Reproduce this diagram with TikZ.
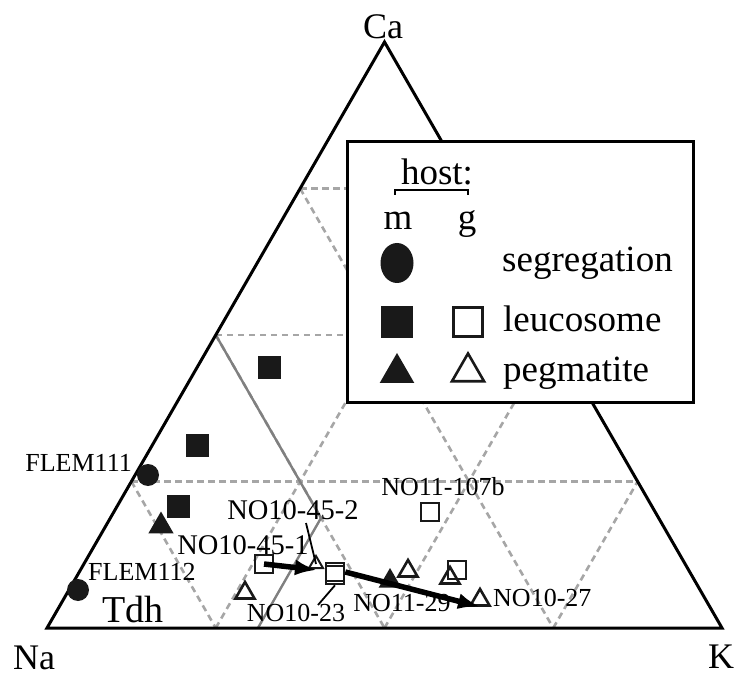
\documentclass[tikz,border=0pt]{standalone}
\usepackage{fontspec}
\setmainfont{Liberation Serif}
\usetikzlibrary{calc,shapes.geometric,arrows.meta}

\begin{document}
\begin{tikzpicture}[x=1pt,y=1pt,
        gridline/.style={gray!70, line width=2.6pt, dash pattern=on 6.5pt off 4.5pt},
        field/.style={gray, line width=2.4pt},
        msym/.style={fill=black!90, inner sep=0pt},
        gsym/.style={draw=black!90, line width=2.6pt, inner sep=0pt},
        sq/.style={rectangle, minimum size=#1},
        tri/.style={regular polygon, regular polygon sides=3, minimum size=#1},
        dot/.style={circle, minimum size=#1},
        lbl/.style={font=\fontsize{26}{26}\selectfont, inner sep=0pt},
        leg/.style={font=\fontsize{37}{37}\selectfont, inner sep=0pt},
        flow/.style={line width=5.5pt, -{Latex[length=22pt,width=16pt]}},
        leader/.style={line width=1.8pt}]
    \useasboundingbox (0,0) rectangle (736,678);

    % Corners
    \coordinate (Na) at (47,50);
    \coordinate (K) at (722,50);
    \coordinate (Ca) at (384.5,636);

    % Grid lines
    \foreach \f in {0.25,0.5,0.75} {
        \draw[gridline] ($(Na)!\f!(Ca)$) -- ($(K)!\f!(Ca)$);
        \draw[gridline] ($(Ca)!\f!(Na)$) -- ($(K)!\f!(Na)$);
        \draw[gridline] ($(Na)!\f!(K)$) -- ($(Ca)!\f!(K)$);
    }

    % Tdh field
    \coordinate (P) at (321,160);
    \draw[field] ($(Ca)!0.5!(Na)$) -- (P) -- ($(Na)!0.3125!(K)$);
    \node[font=\fontsize{38}{38}\selectfont, inner sep=0pt] (tdh) at (133,68) {Tdh};

    % Triangle
    \draw[line width=3pt, line join=miter] (Na) -- (K) -- (Ca) -- cycle;
    \node[font=\fontsize{36}{36}\selectfont, inner sep=0pt] (lca) at (383,651) {Ca};
    \node[font=\fontsize{36}{36}\selectfont, inner sep=0pt] (lna) at (34,20) {Na};
    \node[font=\fontsize{36}{36}\selectfont, inner sep=0pt] (lk) at (721,21) {K};

    % Legend
    \draw[fill=white, line width=3pt] (347,275) rectangle (693,536);
    \node[leg] (host) at (437,506) {host:};
    \draw[line width=2.2pt] (395,483) -- (395,488) -- (468,488) -- (468,483);
    \node[leg, anchor=base] (hm) at (398,448) {m};
    \node[leg, anchor=base] (hg) at (467,448) {g};
    \node[msym, ellipse, minimum width=33pt, minimum height=40pt] (kseg) at (397,415) {};
    \node[msym, sq=32pt] (kmsq) at (397,356) {};
    \node[gsym, sq=29pt] (kgsq) at (468,356) {};
    \node[msym, tri=40pt] (kmtri) at (397,305) {};
    \node[gsym, tri=37pt] (kgtri) at (468,306) {};
    \node[leg, anchor=base west] at (502,406) {segregation};
    \node[leg, anchor=base west] at (503,346) {leucosome};
    \node[leg, anchor=base west] at (503,296) {pegmatite};

    % m samples
    \node[msym, dot=22pt] (f111) at (148,203) {};
    \node[msym, dot=22pt] (f112) at (78,88) {};
    \foreach \x/\y in {269/310, 197/233, 178/172}
        \node[msym, sq=23pt] at (\x,\y) {};
    \node[msym, tri=29pt] (mt1) at (161,152) {};
    \node[msym, tri=26pt] (n1129) at (390,97) {};

    % g samples
    \node[gsym, sq=18pt] (s451) at (264,114) {};
    \node[gsym, sq=18pt] (s23b) at (335,103) {};
    \node[gsym, sq=18pt] (s23) at (335,106) {};
    \node[gsym, sq=18pt] (s107) at (430,166) {};
    \node[gsym, sq=18pt] (s5) at (457,108) {};
    \node[gsym, tri=22pt] (gt1) at (245,85) {};
    \node[gsym, tri=16pt, line width=2pt] (t452) at (316,114) {};
    \node[gsym, tri=22pt] (gt2) at (408,107) {};
    \node[gsym, tri=22pt] (gt3) at (450,100) {};
    \node[gsym, tri=22pt] (t27) at (480,78) {};

    % Trends
    \coordinate (a452) at (317,108);
    \draw[flow] (s451.center) -- (a452);
    \draw[flow] (s23.east) -- (t27.south);

    % Labels
    \node[lbl, anchor=east] (lf111) at (132,215) {FLEM111};
    \node[lbl, anchor=west] (lf112) at (88,106) {FLEM112};
    \node[lbl] (l107) at (443,191) {NO11-107b};
    \node[lbl, font=\fontsize{28.5}{28.5}\selectfont] (l452) at (293,168) {NO10-45-2};
    \node[lbl, font=\fontsize{28.5}{28.5}\selectfont] (l451) at (243,133) {NO10-45-1};
    \node[lbl] (l23) at (296,65) {NO10-23};
    \node[lbl] (l1129) at (402,75) {NO11-29};
    \node[lbl, anchor=west] (l27) at (493,80) {NO10-27};

    % Leaders
    \coordinate (c452) at (306,155);
    \coordinate (c23) at (318,73);
    \draw[leader] (c452) -- (t452.center);
    \draw[leader] (c23) -- (s23b.south);
\end{tikzpicture}
\end{document}
